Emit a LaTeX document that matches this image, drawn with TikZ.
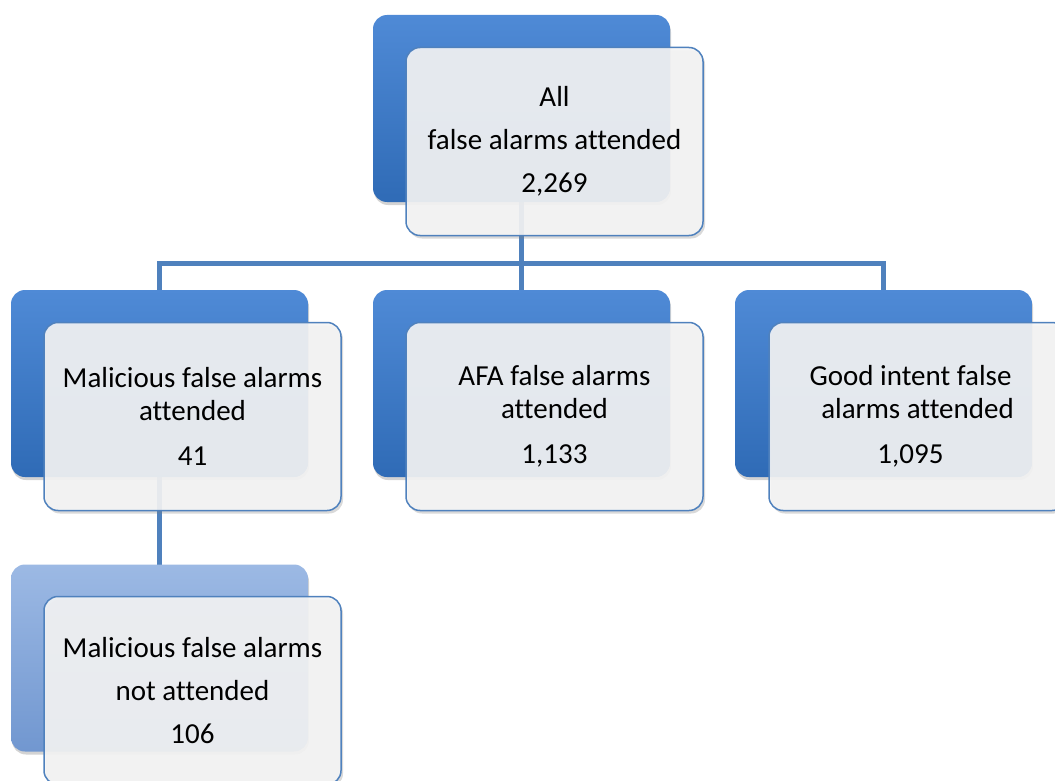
\documentclass[tikz,border=0pt]{standalone}
\usepackage{fontspec}
\setmainfont{Carlito}[Ligatures=NoCommon]
\usetikzlibrary{shadows,backgrounds}
\definecolor{blueTop}{HTML}{4F8AD6}
\definecolor{blueBot}{HTML}{2F6BB6}
\definecolor{paleTop}{HTML}{9CB9E4}
\definecolor{paleBot}{HTML}{7197D0}
\definecolor{lineblue}{HTML}{4F81BD}
\definecolor{frontgray}{HTML}{F5F5F5}

\begin{document}
\begin{tikzpicture}[x=1pt,y=-1pt,font=\fontsize{29}{33}\selectfont]
  \tikzstyle{back}=[rounded corners=14pt, minimum width=297pt, minimum height=187pt,
    top color=blueTop, bottom color=blueBot, draw=none,
    drop shadow={opacity=0.35,shadow xshift=1pt,shadow yshift=-3pt}]
  \tikzstyle{front}=[rounded corners=14pt, minimum width=297pt, minimum height=188pt,
    draw=lineblue, line width=1.5pt, fill=frontgray, fill opacity=0.9, text opacity=1,
    align=center, drop shadow={opacity=0.3,shadow xshift=2pt,shadow yshift=-3pt}]
  \tikzstyle{wide}=[font=\fontsize{29}{43}\selectfont]
  \tikzstyle{link}=[draw=lineblue, line width=5pt]

  \clip (0,0) rectangle (1055,781);
  \useasboundingbox (0,0) rectangle (1055,781);

  \node[back]  (allB) at (521.5,108.5) {};
  \node[front,wide] (allF) at (554.5,141.5) {All\\false alarms attended\\2,269};

  \node[back]  (malB) at (159.5,383.5) {};
  \node[front] (malF) at (192.5,416.5) {Malicious false alarms\\attended\\[12pt]41};

  \node[back]  (afaB) at (521.5,383.5) {};
  \node[front] (afaF) at (554.5,416.5) {AFA false alarms\\attended\\[12pt]1,133};

  \node[back]  (goodB) at (883.5,383.5) {};
  \node[front] (goodF) at (917.5,416.5) {Good intent false\hspace*{14pt}\\alarms attended\hspace*{14pt}\\[12pt]1,095\hspace*{14pt}};

  \node[back, top color=paleTop, bottom color=paleBot] (notB) at (159.5,658) {};
  \node[front,wide] (notF) at (192.5,690.5) {Malicious false alarms\\not attended\\106};

  % connectors sit behind the boxes
  \begin{pgfonlayer}{background}
    \coordinate (bus) at (521.5,263);
    \path[link] (allB.center) -- (bus);
    \path[link] (bus) -| (malB.center);
    \path[link] (bus) -| (goodB.center);
    \path[link] (bus) -- (afaB.center);
    \path[link] (malB.center) -- (notB.center);
  \end{pgfonlayer}
\end{tikzpicture}
\end{document}
